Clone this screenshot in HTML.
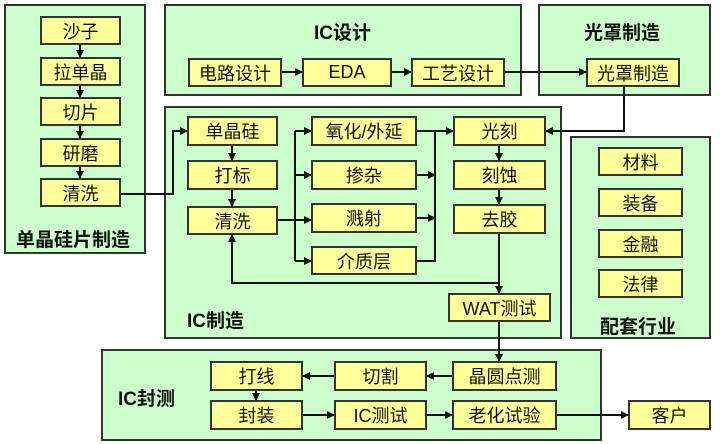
<!DOCTYPE html><html><head><meta charset="utf-8"><style>
body{margin:0;width:726px;height:444px;background:#fff;position:relative;overflow:hidden;font-family:"Liberation Sans","Noto Sans CJK SC",sans-serif}
.p{position:absolute;background:#ccffcc;border:2px solid #333;box-sizing:border-box}
.b{position:absolute;background:#ffff99;border:2px solid #333;box-sizing:border-box;display:flex;align-items:center;justify-content:center;font-size:18px;color:#111}
.t{position:absolute;font-weight:bold;font-size:19px;color:#111;white-space:nowrap}
svg{position:absolute;left:0;top:0}
</style></head><body>
<div class="p" style="left:4px;top:4px;width:142px;height:250px"></div>
<div class="p" style="left:164px;top:4px;width:358px;height:92px"></div>
<div class="p" style="left:538px;top:4px;width:173px;height:92px"></div>
<div class="p" style="left:164px;top:106px;width:398px;height:233px"></div>
<div class="p" style="left:570px;top:136px;width:141px;height:203px"></div>
<div class="p" style="left:101px;top:349px;width:501px;height:92px"></div>
<div class="t" style="left:16px;top:225px">单晶硅片制造</div>
<div class="t" style="left:314px;top:18px">IC设计</div>
<div class="t" style="left:584px;top:18px">光罩制造</div>
<div class="t" style="left:187px;top:306px">IC制造</div>
<div class="t" style="left:600px;top:312px">配套行业</div>
<div class="t" style="left:118px;top:384px">IC封测</div>
<div class="b" style="left:40px;top:16px;width:81px;height:29px">沙子</div>
<div class="b" style="left:40px;top:57px;width:81px;height:29px">拉单晶</div>
<div class="b" style="left:40px;top:97px;width:81px;height:29px">切片</div>
<div class="b" style="left:40px;top:138px;width:81px;height:29px">研磨</div>
<div class="b" style="left:40px;top:178px;width:81px;height:29px">清洗</div>
<div class="b" style="left:188px;top:58px;width:94px;height:29px">电路设计</div>
<div class="b" style="left:302px;top:58px;width:90px;height:29px">EDA</div>
<div class="b" style="left:411px;top:58px;width:94px;height:29px">工艺设计</div>
<div class="b" style="left:586px;top:58px;width:94px;height:29px">光罩制造</div>
<div class="b" style="left:187px;top:116px;width:91px;height:30px">单晶硅</div>
<div class="b" style="left:187px;top:160px;width:91px;height:30px">打标</div>
<div class="b" style="left:187px;top:206px;width:91px;height:29px">清洗</div>
<div class="b" style="left:311px;top:116px;width:106px;height:30px">氧化/外延</div>
<div class="b" style="left:311px;top:160px;width:106px;height:30px">掺杂</div>
<div class="b" style="left:311px;top:203px;width:106px;height:30px">溅射</div>
<div class="b" style="left:311px;top:246px;width:106px;height:29px">介质层</div>
<div class="b" style="left:453px;top:116px;width:93px;height:30px">光刻</div>
<div class="b" style="left:453px;top:160px;width:93px;height:30px">刻蚀</div>
<div class="b" style="left:453px;top:204px;width:93px;height:30px">去胶</div>
<div class="b" style="left:448px;top:293px;width:103px;height:29px">WAT测试</div>
<div class="b" style="left:598px;top:147px;width:85px;height:29px">材料</div>
<div class="b" style="left:598px;top:188px;width:85px;height:29px">装备</div>
<div class="b" style="left:598px;top:229px;width:85px;height:29px">金融</div>
<div class="b" style="left:598px;top:269px;width:85px;height:29px">法律</div>
<div class="b" style="left:210px;top:361px;width:93px;height:30px">打线</div>
<div class="b" style="left:334px;top:361px;width:93px;height:30px">切割</div>
<div class="b" style="left:452px;top:361px;width:105px;height:30px">晶圆点测</div>
<div class="b" style="left:210px;top:400px;width:93px;height:30px">封装</div>
<div class="b" style="left:334px;top:400px;width:93px;height:30px">IC测试</div>
<div class="b" style="left:452px;top:400px;width:105px;height:30px">老化试验</div>
<div class="b" style="left:628px;top:400px;width:83px;height:30px">客户</div>
<svg width="726" height="444"><defs><marker id="a" markerWidth="8" markerHeight="8" refX="7" refY="4" orient="auto" markerUnits="userSpaceOnUse"><path d="M0,0L8,4L0,8z" fill="#111"/></marker></defs>
<g stroke="#111" stroke-width="2" fill="none">
<path d="M295,131V261"/><path d="M435,131V261H417"/>
</g>
<g stroke="#111" stroke-width="2" fill="none" marker-end="url(#a)">
<path d="M80,45V57"/><path d="M80,86V97"/><path d="M80,126V138"/><path d="M80,167V178"/>
<path d="M282,72H302"/><path d="M392,72H411"/><path d="M505,72H586"/>
<path d="M624,87V131H546"/>
<path d="M121,194H173V131H187"/>
<path d="M232,146V160"/><path d="M232,190V206"/>
<path d="M278,220H311"/>
<path d="M295,131H311"/><path d="M295,175H311"/><path d="M295,261H311"/>
<path d="M417,131H453"/><path d="M417,175H435"/><path d="M417,218H435"/>
<path d="M499,146V160"/><path d="M499,190V204"/>
<path d="M499,234V293"/>
<path d="M499,283H232V235"/>
<path d="M499,322V361"/>
<path d="M452,376H427"/><path d="M334,376H303"/><path d="M256,391V400"/>
<path d="M303,415H334"/><path d="M427,415H452"/><path d="M557,415H628"/>
</g></svg>
</body></html>
